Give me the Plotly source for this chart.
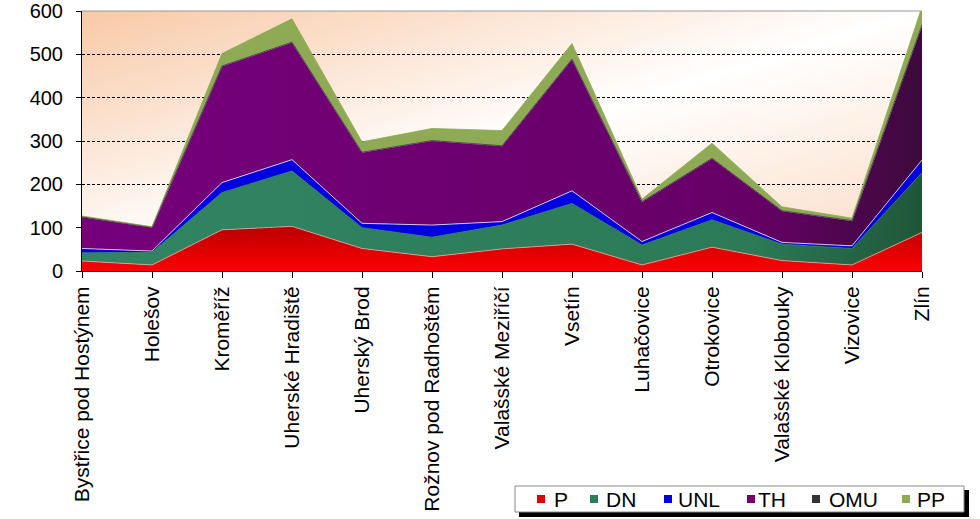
import base64
import plotly.graph_objects as go

# Data
towns = ['Bystřice pod Hostýnem', 'Holešov', 'Kroměříž', 'Uherské Hradiště', 'Uherský Brod',
         'Rožnov pod Radhoštěm', 'Valašské Meziříčí', 'Vsetín', 'Luhačovice', 'Otrokovice',
         'Valašské Klobouky', 'Vizovice', 'Zlín']
P = [23, 14, 95, 103, 52, 33, 51, 62, 14, 55, 24, 14, 89]
DN = [19, 29, 86, 128, 48, 45, 55, 94, 46, 63, 38, 38, 138]
UNL = [10, 3, 23, 26, 10, 28, 8, 29, 8, 17, 4, 6, 29]
TH = [73, 55, 269, 271, 164, 195, 175, 304, 92, 125, 73, 58, 312]
OMU = [0, 0, 0, 0, 0, 0, 0, 0, 0, 0, 0, 0, 0]
PP = [2, 1, 29, 54, 24, 28, 35, 36, 6, 35, 9, 6, 42]
names = ['P', 'DN', 'UNL', 'TH', 'OMU', 'PP']

FONT = 'Liberation Sans, Arial, sans-serif'
colors = ['#e00000', '#2e7d5a', '#0000e0', '#700070', '#333333', '#8faa55']
edge = ['#f3a0a0', '#2e7d5a', '#e4e4ff', '#d9c4d9', '#333333', '#8faa55']
grads = [
    dict(type='vertical', start=0, stop=105, colorscale=[[0, '#ff0000'], [1, '#b80000']]),
    dict(type='horizontal', start=0, stop=12,
         colorscale=[[0, '#318564'], [0.8, '#2c7a56'], [1, '#1f5638']]),
    None,
    dict(type='horizontal', start=0, stop=12,
         colorscale=[[0, '#76007c'], [0.8, '#660066'], [1, '#3c0a3c']]),
    None,
    None,
]

fig = go.Figure()
for name, vals, c, lc, g in zip(names, [P, DN, UNL, TH, OMU, PP], colors, edge, grads):
    kw = dict(x=towns, y=vals, name=name, mode='lines', stackgroup='one',
              line=dict(color=lc, width=0.8), fillcolor=c,
              showlegend=False, hoverinfo='x+y+name')
    if g is not None:
        kw['fillgradient'] = g
    fig.add_trace(go.Scatter(**kw))

# gradient background of the plot area
svg = ('<svg xmlns="http://www.w3.org/2000/svg" width="840" height="260" preserveAspectRatio="none">'
       '<defs><linearGradient id="g" x1="0" y1="0" x2="1" y2="1">'
       '<stop offset="0" stop-color="#f8c9a6"/><stop offset="0.5" stop-color="#ffffff"/>'
       '<stop offset="1" stop-color="#fad8bf"/></linearGradient></defs>'
       '<rect width="840" height="260" fill="url(#g)"/></svg>')
bg = 'data:image/svg+xml;base64,' + base64.b64encode(svg.encode()).decode()

L, T, PW, PH = 82, 11, 840, 260


def px(x):
    return (x - L) / PW


def py(y):
    return (T + PH - y) / PH


# hand-drawn legend box (shadow, frame, swatches, labels)
shapes = [
    dict(type='line', xref='paper', yref='paper', x0=0, x1=1, y0=1, y1=1,
         line=dict(color='#999999', width=1)),
    dict(type='rect', xref='paper', yref='paper', x0=px(519), x1=px(969), y0=py(517), y1=py(490),
         fillcolor='black', line=dict(width=0)),
    dict(type='rect', xref='paper', yref='paper', x0=px(515), x1=px(964), y0=py(512), y1=py(486),
         fillcolor='white', line=dict(color='#888888', width=1)),
]
annotations = []
sq_x = [541, 594, 668, 751, 816, 906]
tx_x = [552, 604, 676, 756, 827, 915]
for name, c, sx, tx in zip(names, colors, sq_x, tx_x):
    shapes.append(dict(type='rect', xref='paper', yref='paper',
                       x0=px(sx - 4), x1=px(sx + 4), y0=py(503), y1=py(495),
                       fillcolor=c, line=dict(width=0)))
    annotations.append(dict(text=name, xref='paper', yref='paper', x=px(tx), y=py(499),
                            xanchor='left', yanchor='middle', showarrow=False,
                            font=dict(family=FONT, size=21, color='black')))

fig.update_layout(
    width=980, height=519,
    margin=dict(l=L, r=980 - L - PW, t=T, b=519 - T - PH, autoexpand=False),
    paper_bgcolor='white', plot_bgcolor='white',
    font=dict(family=FONT, size=20, color='black'),
    showlegend=False,
    images=[dict(source=bg, xref='paper', yref='paper', x=0, y=1, sizex=1, sizey=1,
                 sizing='stretch', layer='below')],
    shapes=shapes,
    annotations=annotations,
)
fig.update_xaxes(type='category', range=[0, 12], showline=True, linecolor='black',
                 linewidth=1, ticks='outside', ticklen=6, tickcolor='black',
                 tickangle=-90, tickfont=dict(family=FONT, size=21), showgrid=False,
                 automargin=False)
fig.update_yaxes(range=[0, 600], dtick=100, showline=True, linecolor='black', linewidth=1,
                 ticks='outside', ticklen=5, tickcolor='black', ticklabelstandoff=9,
                 tickfont=dict(family=FONT, size=20),
                 showgrid=True, gridcolor='black', gridwidth=1, griddash='3px,2px',
                 zeroline=False, automargin=False)

fig.write_html('out.html', config={'displayModeBar': False},
               post_script="document.body.style.margin='0';")
